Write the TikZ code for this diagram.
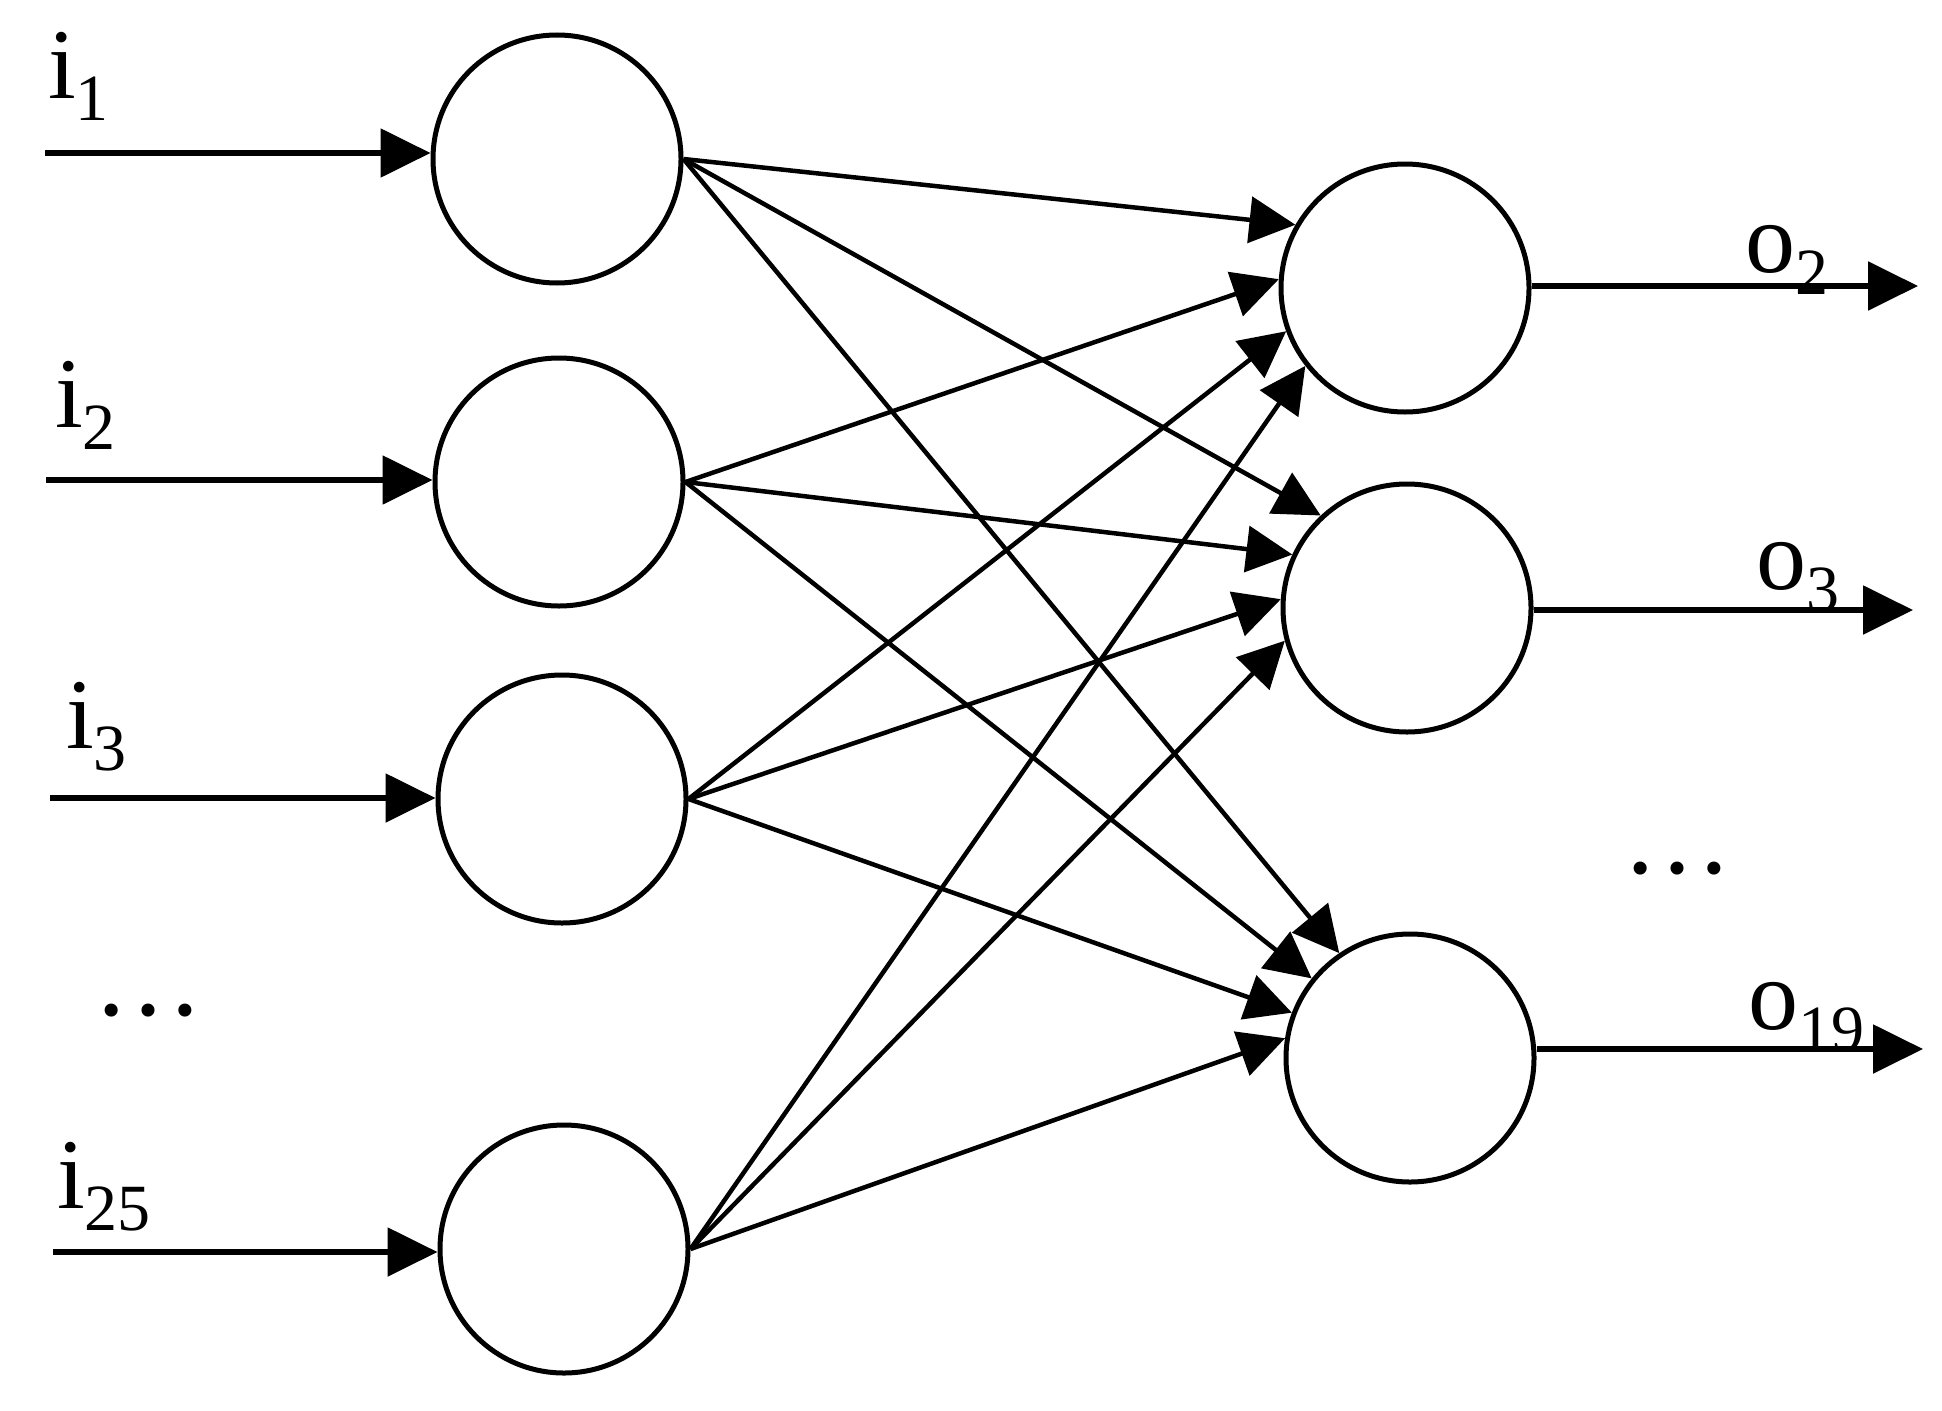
\documentclass[tikz,border=0pt]{standalone}
\usepackage{fontspec}
\setmainfont{Liberation Serif}
\usetikzlibrary{arrows.meta}
\tikzset{
  neuron/.style={circle, draw, line width=5pt, minimum size=248pt, inner sep=0pt},
  inarrow/.style={line width=5.5pt, -{Triangle[length=50pt,width=48pt]}},
  link/.style={line width=4.5pt, -{Triangle[length=46pt,width=46pt]}},
  lbl/.style={anchor=base west, inner sep=0pt, font=\fontsize{100}{100}\selectfont},
  dotslbl/.style={anchor=base, inner sep=0pt, font=\fontsize{110}{110}\selectfont}
}
\newcommand\sublbl[2]{#1\raisebox{-22pt}{\fontsize{66}{66}\selectfont #2}}
\begin{document}
\begin{tikzpicture}[x=1pt,y=-1pt]
\useasboundingbox (0,0) rectangle (1942,1410);
% neurons
\node[neuron] (in1) at (557,159) {};
\node[neuron] (in2) at (559,482) {};
\node[neuron] (in3) at (562,799) {};
\node[neuron] (in4) at (564,1249) {};
\node[neuron] (out1) at (1405,288) {};
\node[neuron] (out2) at (1407,608) {};
\node[neuron] (out3) at (1410,1058) {};
% input start points and output end points
\coordinate (s1) at (45,153);
\coordinate (s2) at (46,480);
\coordinate (s3) at (50,798);
\coordinate (s4) at (53,1252);
\coordinate (e1) at (1918,286);
\coordinate (e2) at (1913,610);
\coordinate (e3) at (1923,1049);
% input arrows
\draw[inarrow] (s1) -- (s1 -| in1.west);
\draw[inarrow] (s2) -- (s2 -| in2.west);
\draw[inarrow] (s3) -- (s3 -| in3.west);
\draw[inarrow] (s4) -- (s4 -| in4.west);
% output arrows
\draw[inarrow] (out1.east |- e1) -- (e1);
\draw[inarrow] (out2.east |- e2) -- (e2);
\draw[inarrow] (out3.east |- e3) -- (e3);
% connections
\draw[link] (in1.east) -- (out1.150.6);
\draw[link] (in2.east) -- (out1.176);
\draw[link] (in3.east) -- (out1.200.4);
\draw[link] (in4.east) -- (out1.218.9);
\draw[link] (in1.east) -- (out2.133.4);
\draw[link] (in2.east) -- (out2.155.6);
\draw[link] (in3.east) -- (out2.176.5);
\draw[link] (in4.east) -- (out2.195.5);
\draw[link] (in1.east) -- (out3.124.2);
\draw[link] (in2.east) -- (out3.141.2);
\draw[link] (in3.east) -- (out3.159.4);
\draw[link] (in4.east) -- (out3.171.9);
% labels
\node[lbl] (li1) at (48,99) {\sublbl{i}{1}};
\node[lbl] (li2) at (55,427) {\sublbl{i}{2}};
\node[lbl] (li3) at (66,748) {\sublbl{i}{3}};
\node[lbl] (li25) at (57,1208) {\sublbl{i}{25}};
\node[lbl] (lo2) at (1745,272) {\sublbl{o}{2}};
\node[lbl] (lo3) at (1756,589) {\sublbl{o}{3}};
\node[lbl] (lo19) at (1748,1029) {\sublbl{o}{19}};
\node[dotslbl] (dl) at (148,1015) {…};
\node[dotslbl] (dr) at (1677,873) {…};
\end{tikzpicture}
\end{document}
